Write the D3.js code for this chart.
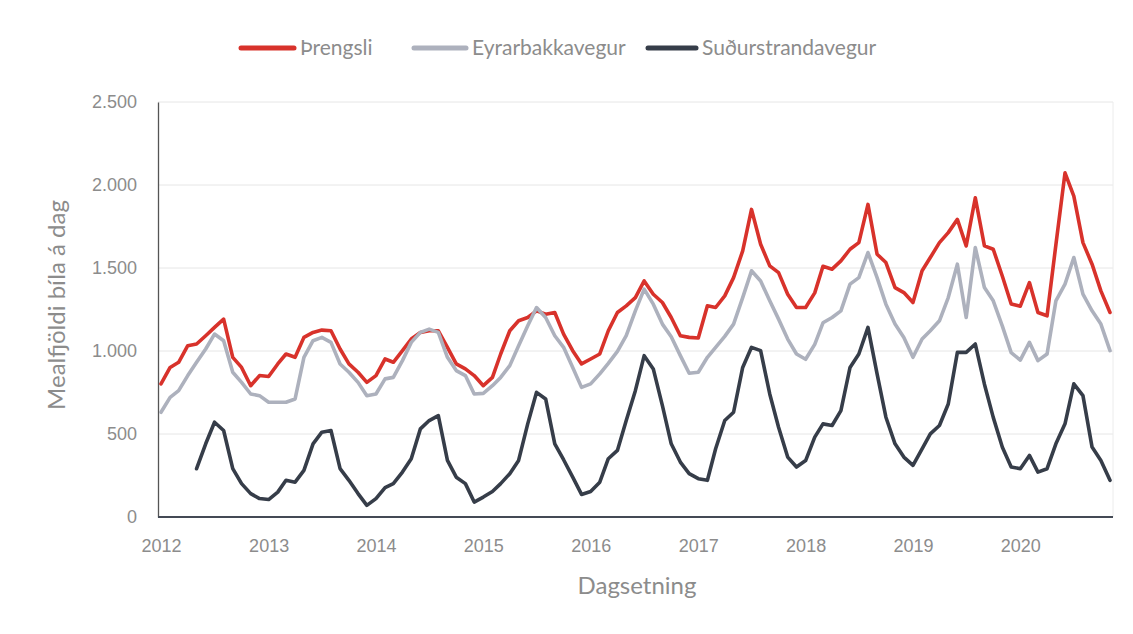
<!DOCTYPE html>
<html>
<head>
<meta charset="utf-8">
<script src="https://cdn.jsdelivr.net/npm/d3@7"></script>
<style>
  body { margin: 0; background: #fff; }
  svg { display: block; font-family: Lato, "Open Sans", sans-serif; }
</style>
</head>
<body>
<div id="chart"></div>
<script>
// monthly averages, Jan 2012 - Nov 2020
const startYear = 2012;
const yearTicks = [2012, 2013, 2014, 2015, 2016, 2017, 2018, 2019, 2020];
const yTicks = [0, 500, 1000, 1500, 2000, 2500];

const seriesNames = ["Þrengsli", "Eyrarbakkavegur", "Suðurstrandavegur"];
const seriesColors = ["#d8322b", "#adb1bd", "#363d49"];

const threngsli = [
  802, 901, 932, 1032, 1042, 1092, 1142, 1192, 962, 901, 791, 852,
  846, 922, 982, 962, 1082, 1112, 1126, 1122, 1012, 922, 872, 811,
  852, 952, 932, 1002, 1072, 1112, 1122, 1122, 1022, 922, 892, 852,
  791, 841, 982, 1122, 1182, 1202, 1242, 1222, 1232, 1102, 1002, 922,
  952, 982, 1122, 1232, 1272, 1322, 1422, 1342, 1292, 1202, 1092, 1082,
  1078, 1272, 1262, 1332, 1442, 1603, 1853, 1643, 1513, 1472, 1342, 1262,
  1262, 1350, 1510, 1493, 1543, 1613, 1653, 1883, 1583, 1533, 1382, 1352,
  1292, 1483, 1563, 1653, 1713, 1793, 1633, 1923, 1633, 1613, 1450, 1283,
  1270, 1412, 1232, 1212, 1640, 2073, 1933, 1653, 1523, 1362, 1232
];
const eyrarbakkavegur = [
  631, 721, 761, 852, 932, 1012, 1102, 1062, 872, 811, 741, 731,
  691, 691, 691, 711, 962, 1062, 1082, 1052, 922, 872, 811, 731,
  741, 832, 841, 942, 1052, 1112, 1132, 1112, 962, 882, 852, 741,
  745, 791, 841, 912, 1032, 1152, 1262, 1202, 1092, 1022, 901, 781,
  802, 862, 926, 998, 1092, 1242, 1373, 1282, 1162, 1086, 972, 866,
  872, 962, 1022, 1088, 1162, 1322, 1483, 1422, 1302, 1192, 1072, 982,
  950, 1040, 1170, 1202, 1242, 1403, 1442, 1593, 1442, 1282, 1162, 1082,
  962, 1072, 1122, 1182, 1322, 1523, 1202, 1623, 1382, 1302, 1150, 990,
  945, 1052, 942, 982, 1302, 1403, 1563, 1343, 1242, 1162, 1002
];
const sudurstrandavegur = [
  null, null, null, null, 291, 441, 571, 521, 291, 201, 141, 111,
  105, 150, 221, 210, 281, 441, 511, 521, 291, 221, 141, 70,
  111, 177, 201, 271, 351, 531, 581, 611, 341, 240, 201, 90,
  120, 154, 201, 261, 341, 561, 751, 711, 441, 345, 240, 136,
  154, 210, 351, 401, 581, 761, 972, 892, 671, 441, 331, 261,
  231, 221, 411, 581, 631, 901, 1022, 1002, 741, 541, 361, 301,
  340, 481, 561, 551, 641, 901, 982, 1142, 862, 601, 441, 361,
  311, 411, 501, 551, 681, 992, 992, 1042, 800, 600, 420, 301,
  291, 371, 270, 291, 441, 561, 802, 731, 421, 341, 221
];

const allSeries = [threngsli, eyrarbakkavegur, sudurstrandavegur];
const dates = threngsli.map((d, i) => new Date(startYear, i, 1));

const width = 1133, height = 634;
const plot = { left: 158, right: 1113, top: 102, bottom: 517 };

const svg = d3.select("#chart").append("svg")
  .attr("width", width)
  .attr("height", height);

const x = d3.scaleTime()
  .domain([dates[0], dates[dates.length - 1]])
  .range([161, 1110]);

const y = d3.scaleLinear()
  .domain([0, 2500])
  .range([plot.bottom, plot.top]);

const isFormat = d3.formatLocale({ decimal: ",", thousands: ".", grouping: [3], currency: ["", ""] }).format(",");

// gridlines
svg.append("g")
  .selectAll("line")
  .data(yTicks.filter(d => d > 0))
  .join("line")
  .attr("x1", plot.left).attr("x2", plot.right)
  .attr("y1", d => y(d)).attr("y2", d => y(d))
  .attr("stroke", "#e6e6e6")
  .attr("stroke-width", 1);

// right border of plot area
svg.append("line")
  .attr("x1", plot.right).attr("x2", plot.right)
  .attr("y1", plot.top).attr("y2", plot.bottom)
  .attr("stroke", "#ececec");

// y axis
const yAxis = svg.append("g")
  .attr("transform", `translate(${plot.left},0)`)
  .call(d3.axisLeft(y).tickValues(yTicks).tickFormat(isFormat).tickSize(0).tickPadding(21));
yAxis.select(".domain").attr("stroke", "#555").attr("stroke-width", 1.3);
yAxis.selectAll("text").attr("fill", "#8c8c8c").style("font-size", "18px");

// x axis
const xAxis = svg.append("g")
  .attr("transform", `translate(0,${plot.bottom})`)
  .call(d3.axisBottom(x)
    .tickValues(yearTicks.map(yr => new Date(yr, 0, 1)))
    .tickFormat(d3.timeFormat("%Y"))
    .tickSize(0).tickPadding(22));
xAxis.select(".domain").remove();
xAxis.selectAll("text").attr("fill", "#8c8c8c").style("font-size", "18px");

svg.append("line")
  .attr("x1", plot.left).attr("x2", plot.right)
  .attr("y1", plot.bottom).attr("y2", plot.bottom)
  .attr("stroke", "#444a55")
  .attr("stroke-width", 2);

// lines
const line = d3.line()
  .defined(d => d != null)
  .x((d, i) => x(dates[i]))
  .y(d => y(d));

svg.append("g")
  .selectAll("path")
  .data(allSeries)
  .join("path")
  .attr("d", d => line(d))
  .attr("fill", "none")
  .attr("stroke", (d, i) => seriesColors[i])
  .attr("stroke-width", 3.6)
  .attr("stroke-linejoin", "round")
  .attr("stroke-linecap", "round");

// axis titles
svg.append("text")
  .attr("transform", "translate(65,305) rotate(-90)")
  .attr("text-anchor", "middle")
  .attr("fill", "#8c8c8c")
  .style("font-size", "24px")
  .text("Mealfjöldi bíla á dag");

svg.append("text")
  .attr("x", 637).attr("y", 594)
  .attr("text-anchor", "middle")
  .attr("fill", "#8c8c8c")
  .style("font-size", "24px")
  .text("Dagsetning");

// legend
const legendLineX = [241, 414, 648];
const legendTextX = [300, 472, 702];
const legend = svg.append("g")
  .selectAll("g")
  .data(seriesNames)
  .join("g");

legend.append("line")
  .attr("x1", (d, i) => legendLineX[i])
  .attr("x2", (d, i) => legendTextX[i] - 6)
  .attr("y1", 48).attr("y2", 48)
  .attr("stroke", (d, i) => seriesColors[i])
  .attr("stroke-width", 5)
  .attr("stroke-linecap", "round");

legend.append("text")
  .attr("x", (d, i) => legendTextX[i]).attr("y", 55)
  .attr("fill", "#8c8c8c")
  .style("font-size", "21px")
  .text(d => d);
</script>
</body>
</html>
